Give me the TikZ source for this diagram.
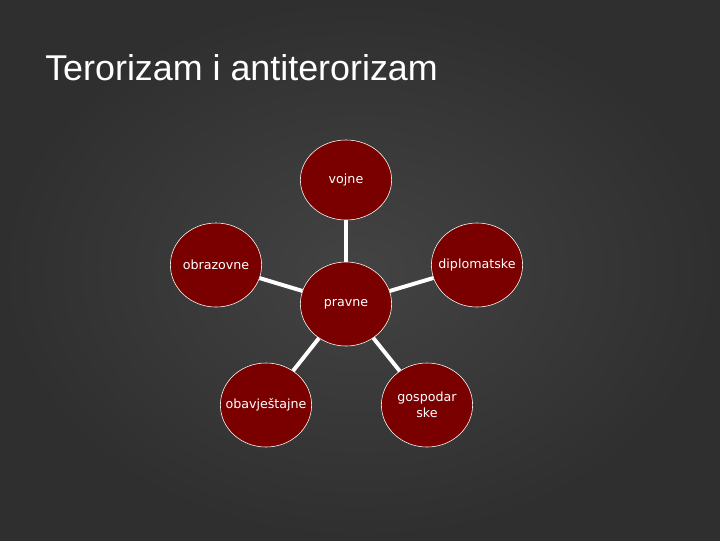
\documentclass[tikz,border=0pt]{standalone}
\usepackage{fontspec}
\setmainfont{Liberation Sans}
\newfontfamily\nodefont{DejaVu Sans}
\usetikzlibrary{positioning}
\usetikzlibrary{shapes.geometric}
\definecolor{bgdark}{HTML}{2F2F2F}
\definecolor{bglight}{HTML}{434343}
\definecolor{bubblered}{HTML}{7A0000}
\tikzstyle{bubble} = [ellipse, minimum width=2.28cm, minimum height=2.1cm, inner xsep=-8pt, inner ysep=0pt, text centered, draw=white, thin, fill=bubblered, text=white, font=\nodefont\fontsize{9}{11}\selectfont, align=center]
\tikzstyle{spoke} = [white, line width=2.8pt]

\begin{document}
\begin{tikzpicture}[x=0.025cm,y=-0.025cm]
      %% background
      \useasboundingbox (0,0) rectangle (720,540);
      \shade[inner color=bglight, outer color=bgdark] (0,0) rectangle (720,540);
      %% title
      \node (title) [anchor=base west, inner sep=0pt, text=white, font=\fontsize{25.5}{30}\selectfont] at (45,80) {Terorizam i antiterorizam};
      %%%%%%%%%%%%%%%%%%%%%%%%%%%%%%%%%%%%%%%
      \draw (346,304) node (pravne) [bubble] {pravne};
      \draw (346,180) node (vojne) [bubble, minimum height=2cm] {vojne};
      \draw (216,265) node (obrazovne) [bubble] {obrazovne};
      \draw (477,265) node (diplomatske) [bubble] {diplomatske};
      \draw (266,405) node (obavjestajne) [bubble] {obavještajne};
      \draw (427,405) node (gospodarske) [bubble] {gospodar\\ske};
      \draw[spoke] (pravne)--(vojne);
      \draw[spoke] (pravne)--(obrazovne);
      \draw[spoke] (pravne)--(diplomatske);
      \draw[spoke] (pravne)--(obavjestajne);
      \draw[spoke] (pravne)--(gospodarske);
\end{tikzpicture}
\end{document}
